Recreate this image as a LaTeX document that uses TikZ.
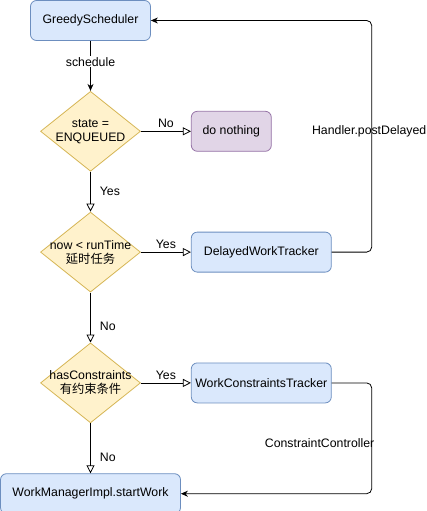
\documentclass[tikz,border=0pt]{standalone}
\usepackage{fontspec}
\setmainfont{Liberation Sans}
\newfontfamily\cjk{Noto Sans CJK SC}
\usetikzlibrary{arrows.meta,positioning,shapes.geometric}

\definecolor{boxblue}{HTML}{DAE8FC}
\definecolor{lineblue}{HTML}{6C8EBF}
\definecolor{boxyellow}{HTML}{FFF2CC}
\definecolor{lineyellow}{HTML}{D6B656}
\definecolor{boxpurple}{HTML}{E1D5E7}
\definecolor{linepurple}{HTML}{9673A6}

\begin{document}
\begin{tikzpicture}[x=1pt,y=1pt,>={Stealth[length=7pt,width=6pt]},line width=0.8pt,
                    font=\fontsize{12.3}{14}\selectfont,
                    blue node/.style={rectangle,rounded corners=6pt,draw=lineblue,fill=boxblue,
                                      minimum width=140pt,minimum height=40pt,inner sep=0pt},
                    purple node/.style={rectangle,rounded corners=6pt,draw=linepurple,fill=boxpurple,
                                        minimum width=80pt,minimum height=40pt,inner sep=0pt},
                    cond node/.style={diamond,draw=lineyellow,fill=boxyellow,align=center,
                                      aspect=1.25,inner xsep=-20pt,inner ysep=0pt,
                                      minimum width=100pt,minimum height=80pt},
                    open arrow/.style={-{Triangle[open,length=8pt,width=8pt]}}]
    \useasboundingbox (0,0) rectangle (427,-511);
    \node[blue node,minimum width=120pt] (gs) at (90.5,-20.5) {GreedyScheduler};
    \node[cond node] (enq) [below=50pt of gs] {state =\\ENQUEUED};
    \node[purple node] (nothing) [right=50pt of enq] {do nothing};
    \node[cond node] (delay) [below=40pt of enq] {now < runTime\\{\cjk 延时任务}};
    \node[blue node] (dwt) [right=50pt of delay] {DelayedWorkTracker};
    \node[cond node] (cons) [below=50pt of delay] {hasConstraints\\{\cjk 有约束条件}};
    \node[blue node] (wct) [right=50pt of cons] {WorkConstraintsTracker};
    \node[blue node,minimum width=180pt] (start) [below=50pt of cons] {WorkManagerImpl.startWork};
    \path[every node/.style={fill=white,inner sep=1pt}]
        (gs)
        edge[->] node[pos=0.42] {schedule} (enq)

        (enq)
        edge[open arrow] node[above=2pt] {No} (nothing)
        edge[open arrow] node[right=8pt] {Yes} (delay)

        (delay)
        edge[open arrow] node[above=2pt] {Yes} (dwt)
        edge[open arrow] node[right=8pt,pos=0.68] {No} (cons)

        (cons)
        edge[open arrow] node[above=2pt] {Yes} (wct)
        edge[open arrow] node[right=8pt,pos=0.68] {No} (start)
        ;
    \draw[->,rounded corners=5pt] (dwt.east) -- ++(40pt,0)
        |- node[pos=0.26,anchor=east,inner sep=0pt,xshift=55pt] {Handler.postDelayed} (gs.east);
    \draw[->,rounded corners=5pt] (wct.east) -- ++(40pt,0)
        |- node[pos=0.27,anchor=east,inner sep=0pt,xshift=3pt] {ConstraintController} (start.east);
\end{tikzpicture}
\end{document}
